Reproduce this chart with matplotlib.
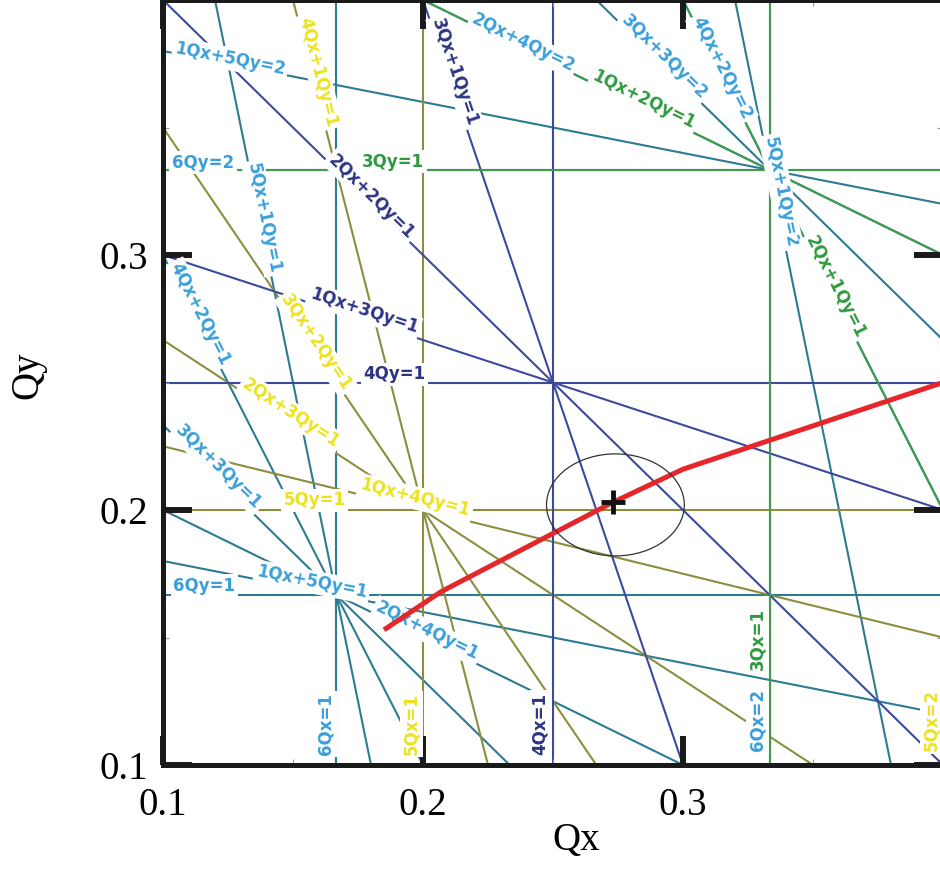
import numpy as np
import matplotlib
matplotlib.use('Agg')
import matplotlib.pyplot as plt
from matplotlib.patches import Ellipse

plt.rcParams['font.family'] = ['Liberation Serif', 'DejaVu Serif']

# resonance lines m*Qx + n*Qy = p, grouped by order m+n
order3 = [(3, 0, 1), (0, 3, 1), (2, 1, 1), (1, 2, 1)]
order4 = [(4, 0, 1), (0, 4, 1), (3, 1, 1), (1, 3, 1), (2, 2, 1)]
order5 = [(5, 0, 1), (5, 0, 2), (0, 5, 1), (0, 5, 2), (4, 1, 1), (1, 4, 1),
          (3, 2, 1), (2, 3, 1), (4, 1, 2), (1, 4, 2), (3, 2, 2), (2, 3, 2)]
order6 = [(6, 0, 1), (6, 0, 2), (0, 6, 1), (0, 6, 2), (5, 1, 1), (5, 1, 2),
          (1, 5, 1), (1, 5, 2), (4, 2, 1), (4, 2, 2), (2, 4, 1), (2, 4, 2),
          (3, 3, 1), (3, 3, 2)]

# which resonances get a text label (m, n, p)
labelled = [(1, 5, 2), (4, 1, 1), (3, 1, 1), (2, 4, 2), (1, 2, 1), (3, 3, 2),
            (4, 2, 2), (0, 6, 2), (0, 3, 1), (5, 1, 2), (5, 1, 1), (2, 2, 1),
            (2, 1, 1), (4, 2, 1), (1, 3, 1), (3, 2, 1), (0, 4, 1), (2, 3, 1),
            (3, 3, 1), (0, 5, 1), (1, 4, 1), (0, 6, 1), (1, 5, 1), (2, 4, 1),
            (6, 0, 1), (5, 0, 1), (4, 0, 1), (3, 0, 1), (6, 0, 2), (5, 0, 2)]
# label centres (layout, in tune units)
label_x = [0.1259, 0.1596, 0.2123, 0.2385, 0.2850, 0.2927,
           0.3150, 0.1154, 0.1885, 0.3377, 0.1388, 0.1802,
           0.3585, 0.1140, 0.1773, 0.1588, 0.1891, 0.1492,
           0.1212, 0.1583, 0.1971, 0.1158, 0.1573, 0.2015,
           0.1626, 0.1954, 0.2450, 0.3285, 0.3285, 0.3954]
label_y = [0.3769, 0.3718, 0.3718, 0.3831, 0.3608, 0.3776,
           0.3733, 0.3361, 0.3365, 0.3247, 0.3145, 0.3229,
           0.2875, 0.2769, 0.2780, 0.2655, 0.2533, 0.2380,
           0.2167, 0.2039, 0.2047, 0.1702, 0.1718, 0.1525,
           0.1161, 0.1161, 0.1161, 0.1494, 0.1176, 0.1176]

# tune path and working point
tune_qx = [0.185, 0.207, 0.273, 0.300, 0.400]
tune_qy = [0.153, 0.168, 0.203, 0.216, 0.250]
wp_qx, wp_qy = 0.273, 0.203
ell_qx, ell_qy = 0.274, 0.202
ell_w, ell_h = 0.053, 0.040

line_colors = {3: '#3f9c4c', 4: '#3c4a9c', 5: '#8c8e3e', 6: '#2c7b92'}
text_colors = {3: '#2f9a40', 4: '#2d3482', 5: '#ece21c', 6: '#3a9fd9'}

fig = plt.figure(figsize=(9.4, 8.76), dpi=100)
ax = fig.add_axes([163 / 940, 111 / 876, 780 / 940, 765 / 876])
ax.set_xlim(0.1, 0.4)
ax.set_ylim(0.1, 0.4)

# higher orders first so lower-order lines sit on top
for order, group in [(6, order6), (5, order5), (4, order4), (3, order3)]:
    for m, n, p in group:
        if n == 0:
            ax.axvline(p / m, color=line_colors[order], lw=1.5, zorder=1)
        elif m == 0:
            ax.axhline(p / n, color=line_colors[order], lw=1.5, zorder=1)
        else:
            ax.axline((0, p / n), (1, (p - m) / n), color=line_colors[order], lw=1.5, zorder=1)


def display_angle(m, n):
    if n == 0:
        return 90.0
    a = ax.transData.transform((0.2, 0.2))
    b = ax.transData.transform((0.3, 0.2 - m / n * 0.1))
    return np.degrees(np.arctan2(b[1] - a[1], b[0] - a[0]))


for (m, n, p), x, y in zip(labelled, label_x, label_y):
    if m == 0:
        txt = f'{n}Qy={p}'
    elif n == 0:
        txt = f'{m}Qx={p}'
    else:
        txt = f'{m}Qx+{n}Qy={p}'
    ax.text(x, y, txt, family='DejaVu Sans', weight='bold', fontsize=12,
            color=text_colors[m + n], rotation=display_angle(m, n),
            rotation_mode='anchor', ha='center', va='center', zorder=3,
            bbox=dict(boxstyle='square,pad=0.15', fc='white', ec='none'))

# tune path, working point and its footprint
ax.plot(tune_qx, tune_qy, color='#e5262b', lw=3.6, zorder=4, solid_capstyle='butt')
ax.add_patch(Ellipse((ell_qx, ell_qy), ell_w, ell_h, fill=False, ec='#333333', lw=0.9, zorder=4))
ax.plot(wp_qx, wp_qy, marker='+', ms=17, mew=3.5, color='#111111', zorder=5)

# axes styling
for s in ax.spines.values():
    s.set_linewidth(3.6)
    s.set_color('#1a1a1a')
    s.set_zorder(6)
ax.set_xticks([0.1, 0.2, 0.3])
ax.set_yticks([0.1, 0.2, 0.3])
ax.set_xticklabels(['0.1', '0.2', '0.3'])
ax.set_yticklabels(['0.1', '0.2', '0.3'])
ax.set_xticks([0.15, 0.25, 0.35], minor=True)
ax.set_yticks([0.15, 0.25, 0.35], minor=True)
ax.tick_params(which='major', direction='in', length=21, width=4.3, color='#1a1a1a',
               top=True, right=True, labelsize=28)
ax.tick_params(which='minor', direction='in', length=4, width=0.8, color='#999999',
               top=True, right=True)
ax.tick_params(axis='x', which='major', pad=16)
ax.tick_params(axis='y', which='major', pad=11)

ax.set_xlabel('Qx', fontsize=28)
ax.set_ylabel('Qy', fontsize=28)
ax.xaxis.set_label_coords(0.53, -0.075)
ax.yaxis.set_label_coords(-0.15, 0.51)

fig.savefig('out.png', dpi=100)
